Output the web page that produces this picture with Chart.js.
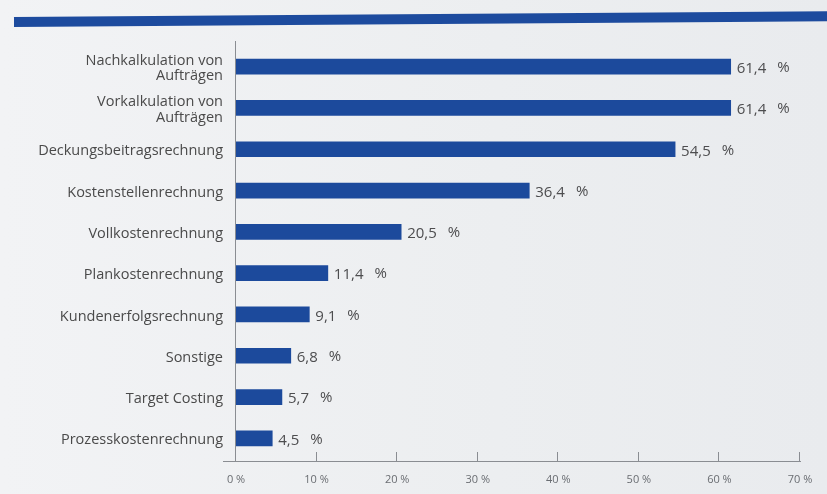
<!DOCTYPE html>
<html>
<head>
<meta charset="utf-8">
<script src="https://cdn.jsdelivr.net/npm/chart.js@4.4.0/dist/chart.umd.min.js"></script>
<style>
  html, body { margin: 0; padding: 0; background: #eef0f2; }
  #wrap { position: relative; width: 827px; height: 494px; overflow: hidden;
          background: linear-gradient(90deg, #f2f3f5 0%, #eceef0 60%, #e9ebee 100%); }
  #hdr { position: absolute; left: 14px; top: 17px; width: 830px; height: 10px; background: #1d4b9e;
         transform-origin: 0 50%; transform: rotate(-0.4deg); }
  canvas { position: absolute; left: 0; top: 0; }
</style>
</head>
<body>
<div id="wrap">
  <div id="hdr"></div>
  <canvas id="c" width="827" height="494"></canvas>
</div>
<script>
const categories = [
  ["Nachkalkulation von", "Aufträgen"],
  ["Vorkalkulation von", "Aufträgen"],
  "Deckungsbeitragsrechnung",
  "Kostenstellenrechnung",
  "Vollkostenrechnung",
  "Plankostenrechnung",
  "Kundenerfolgsrechnung",
  "Sonstige",
  "Target Costing",
  "Prozesskostenrechnung"
];
const values = [61.4, 61.4, 54.5, 36.4, 20.5, 11.4, 9.1, 6.8, 5.7, 4.5];
const tickValues = [0, 10, 20, 30, 40, 50, 60, 70];

const fmt = v => v.toFixed(1).replace('.', ',');

const decor = {
  id: 'decor',
  afterDatasetsDraw(chart) {
    const ctx = chart.ctx;
    const xs = chart.scales.x;
    const meta = chart.getDatasetMeta(0);
    ctx.save();
    ctx.font = '15px "Open Sans"';
    ctx.fillStyle = '#4d4d4f';
    ctx.textBaseline = 'middle';
    ctx.textAlign = 'left';
    meta.data.forEach((bar, i) => {
      const s = fmt(values[i]);
      const x = bar.x + 6;
      ctx.fillText(s, x, bar.y + 2);
      ctx.fillText('%', x + ctx.measureText(s).width + 11, bar.y + 1);
    });
    const y0 = chart.chartArea.bottom + 2;
    ctx.strokeStyle = '#8a8d92';
    ctx.lineWidth = 1;
    ctx.beginPath();
    ctx.moveTo(xs.getPixelForValue(0) - 13, y0 + 0.5);
    ctx.lineTo(xs.getPixelForValue(70) + 1, y0 + 0.5);
    ctx.moveTo(Math.round(xs.getPixelForValue(0)) - 0.5, chart.chartArea.top - 5);
    ctx.lineTo(Math.round(xs.getPixelForValue(0)) - 0.5, y0);
    tickValues.forEach(t => {
      const px = Math.round(xs.getPixelForValue(t)) - 0.5;
      ctx.moveTo(px, y0);
      ctx.lineTo(px, y0 - 9);
    });
    ctx.stroke();
    ctx.restore();
  }
};

new Chart(document.getElementById('c'), {
  type: 'bar',
  data: {
    labels: categories,
    datasets: [{
      data: values,
      backgroundColor: '#1c4a9c',
      borderWidth: 0,
      barThickness: 15
    }]
  },
  options: {
    indexAxis: 'y',
    responsive: false,
    animation: false,
    layout: { padding: { top: 46, right: 27, left: 0, bottom: 0 } },
    plugins: { legend: { display: false }, tooltip: { enabled: false } },
    scales: {
      x: {
        min: 0, max: 70,
        afterFit(s) { s.height = 35; },
        afterBuildTicks(s) { s.ticks = tickValues.map(v => ({ value: v })); },
        grid: { display: false, drawTicks: false },
        border: { display: false },
        ticks: {
          padding: 14,
          color: '#6a6d72',
          font: { family: 'Open Sans', size: 11 },
          callback: v => v + ' %'
        }
      },
      y: {
        afterFit(s) { s.width = 236; },
        grid: { display: false, drawTicks: false },
        border: { display: false },
        ticks: {
          padding: 13,
          labelOffset: 2,
          color: '#4a4a4a',
          font: { family: 'Open Sans', size: 14.5, lineHeight: 1.05 }
        }
      }
    }
  },
  plugins: [decor]
});
</script>
</body>
</html>
